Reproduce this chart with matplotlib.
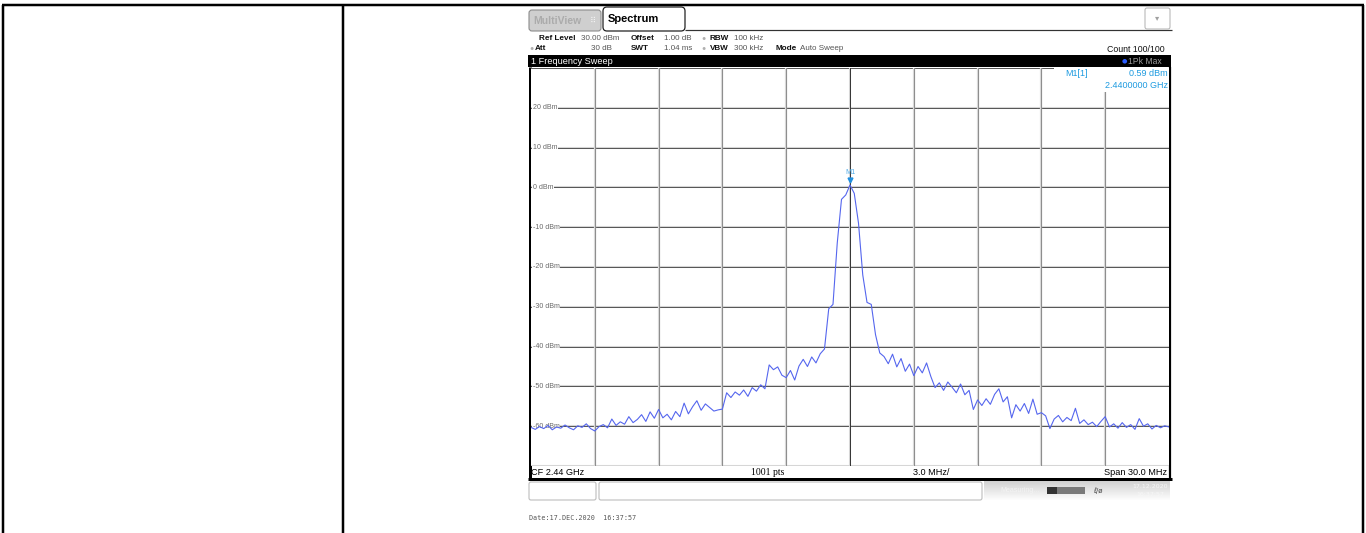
import matplotlib.pyplot as plt
import numpy as np
from matplotlib.patches import Rectangle, FancyBboxPatch

# figure size in pixels
W, H = 1366, 533

# analyzer settings
center_ghz = 2.44
span_mhz = 30.0
ref_level = 30
db_per_div = 10

# trace, 0.2 MHz steps from -15 MHz to +15 MHz
trace_dbm = [
    -60.3, -60.8, -60.1, -60.6, -59.8, -60.9, -60.2, -60.5, -59.7, -60.4, -60.9, -59.9, -60.3, -59.4, -60.6,
    -61.2, -60.1, -59.6, -60.4, -58.2, -59.8, -58.9, -59.5, -57.6, -59.1, -58.3, -57.1, -58.8, -56.4, -58.0,
    -55.8, -57.9, -57.0, -58.4, -56.3, -57.6, -54.2, -56.9, -55.1, -53.6, -56.0, -54.4, -55.3, -56.2, -55.9,
    -55.7, -51.6, -52.8, -51.4, -52.2, -50.9, -52.5, -50.3, -51.2, -49.6, -50.6, -44.6, -45.8, -45.1, -47.2,
    -47.8, -46.0, -48.4, -44.9, -43.2, -45.0, -42.6, -44.1, -41.8, -40.6, -30.5, -29.4, -14.0, -3.0, -1.9,
    0.59, -1.5, -9.0, -22.0, -28.9, -29.4, -37.0, -41.6, -42.5, -44.3, -41.9, -45.1, -43.0, -46.2, -44.4,
    -47.3, -45.0, -46.6, -44.1, -47.5, -50.3, -49.1, -51.0, -48.9, -50.2, -51.6, -49.4, -52.1, -51.0, -55.8,
    -53.4, -54.8, -53.1, -54.5, -52.0, -50.6, -53.9, -52.6, -57.9, -54.6, -56.2, -54.3, -56.8, -53.2, -57.0,
    -56.6, -57.4, -60.6, -58.2, -57.3, -58.9, -57.8, -58.6, -55.5, -59.3, -58.4, -59.6, -59.0, -60.1, -58.8,
    -57.6, -60.2, -59.4, -60.5, -59.1, -60.3, -59.6, -60.8, -58.1, -60.0, -59.4, -60.7, -59.8, -60.4, -59.9, -60.2,
]

level_labels = [20, 10, 0, -10, -20, -30, -40, -50, -60]
marker_freq_ghz = 2.44
marker_dbm = 0.59

fig = plt.figure(figsize=(W / 100, H / 100), dpi=100)
fig.patch.set_facecolor("white")

# background layer in pixel coords
bg = fig.add_axes([0, 0, 1, 1], zorder=0)
bg.set_xlim(0, W)
bg.set_ylim(H, 0)
bg.axis("off")

def px_line(ax, x0, y0, x1, y1, color="black", width=1.0, z=1):
    ax.plot([x0, x1], [y0, y1], color=color, lw=width * 0.72, solid_capstyle="butt", zorder=z)

# table borders
px_line(bg, 2, 5, 1364, 5, width=2.5)
px_line(bg, 3, 5, 3, H, width=2.5)
px_line(bg, 343, 5, 343, H, width=2.5)
px_line(bg, 1363, 5, 1363, H, width=2.5)

font = "Liberation Sans"

# tabs
bg.add_patch(FancyBboxPatch((529, 10), 72, 21, boxstyle="round,pad=0,rounding_size=3",
                            fc="#cfcfcf", ec="#8c8c8c", lw=0.8, zorder=2))
bg.text(533, 21, "MultiView", fontsize=7.5, fontweight="bold", color="#ababab",
        va="center", family=font, zorder=3)
bg.text(593, 20, "⠿", fontsize=6, color="#f2f2f2", va="center", ha="center", zorder=3)
bg.add_patch(FancyBboxPatch((603, 7), 82, 24, boxstyle="round,pad=0,rounding_size=4",
                            fc="white", ec="#222222", lw=0.9, zorder=2))
bg.text(608, 19, "Spectrum", fontsize=8, fontweight="bold", color="black",
        va="center", family=font, zorder=3)
px_line(bg, 685, 30, 1172, 30, color="#333333", width=1.2)
bg.add_patch(FancyBboxPatch((1145, 8), 25, 21, boxstyle="round,pad=0,rounding_size=2",
                            fc="white", ec="#b0b0b0", lw=0.7, zorder=2))
bg.text(1157.5, 18, "▾", fontsize=6, color="#a0a0a0", ha="center", va="center")

# settings header
info_fs = 5.9
def info(x, y, s, bold=False, color="#111111", ha="left", size=info_fs):
    bg.text(x, y, s, fontsize=size, fontweight="bold" if bold else "normal",
            color=color, ha=ha, va="center", family=font, zorder=3)

info(539, 38, "Ref Level", bold=True)
info(581, 38, "30.00 dBm", color="#555555", size=5.8)
info(631, 38, "Offset", bold=True)
info(664, 38, "1.00 dB", color="#555555", size=5.8)
info(701, 38, "●", color="#b0b0b0", size=5)
info(710, 38, "RBW", bold=True)
info(734, 38, "100 kHz", color="#555555", size=5.8)

info(529, 48, "●", color="#b0b0b0", size=5)
info(535, 48, "Att", bold=True)
info(612, 48, "30 dB", color="#555555", ha="right", size=5.8)
info(631, 48, "SWT", bold=True)
info(664, 48, "1.04 ms", color="#555555", size=5.8)
info(701, 48, "●", color="#b0b0b0", size=5)
info(710, 48, "VBW", bold=True)
info(734, 48, "300 kHz", color="#555555", size=5.8)
info(775, 48, "Mode", bold=True)
info(800, 48, "Auto Sweep", color="#555555", size=5.8)
info(1165, 49, "Count 100/100", color="#111111", ha="right", size=6.3)

# black title bar
bg.add_patch(Rectangle((528, 55), 643, 12, fc="black", ec="none", zorder=2))
bg.text(531, 61, "1 Frequency Sweep", fontsize=6.6, color="white", va="center",
        family=font, zorder=3)
bg.text(1124, 61, "●", fontsize=4.5, color="#2a5cff", va="center", ha="center", zorder=3)
bg.text(1128, 61, "1Pk Max", fontsize=6.2, color="#9a9a9a", va="center", family=font, zorder=3)

# frame around the diagram
px_line(bg, 530, 67, 530, 480, width=3, z=4)
px_line(bg, 1170, 67, 1170, 480, width=2.2, z=4)
px_line(bg, 528, 479, 1172, 479, width=3, z=4)

# footer
foot_fs = 6.6
bg.text(531, 472.5, "CF 2.44 GHz", fontsize=foot_fs, va="center", family=font, zorder=3)
bg.text(768, 472.5, "1001 pts", fontsize=foot_fs + 0.4, va="center", ha="center",
        family="Liberation Serif", zorder=3)
bg.text(931, 472.5, "3.0 MHz/", fontsize=foot_fs, va="center", ha="center", family=font, zorder=3)
bg.text(1167, 472.5, "Span 30.0 MHz", fontsize=foot_fs, va="center", ha="right", family=font, zorder=3)

# status bar
bg.add_patch(FancyBboxPatch((529, 482), 67, 18, boxstyle="round,pad=0,rounding_size=2",
                            fc="white", ec="#bdbdbd", lw=0.8, zorder=2))
bg.add_patch(FancyBboxPatch((599, 482), 383, 18, boxstyle="round,pad=0,rounding_size=2",
                            fc="white", ec="#bdbdbd", lw=0.8, zorder=2))
grad = np.linspace(0.82, 0.99, 20).reshape(-1, 1)
bg.imshow(grad, cmap="gray", vmin=0, vmax=1, extent=(984, 1170, 500, 481),
          aspect="auto", zorder=2)
bg.text(1000, 491, "Measuring...", fontsize=5, color="#f4f4f4", va="center", family=font, zorder=3)
bg.add_patch(Rectangle((1047, 487), 10, 7, fc="#333333", ec="none", zorder=3))
bg.add_patch(Rectangle((1057, 487), 28, 7, fc="#7a7a7a", ec="none", zorder=3))
bg.text(1098, 490.5, "ℓ/ø", fontsize=5, color="#444444", va="center", ha="center", zorder=3)
bg.text(1150, 486, "17.12.2020", fontsize=4.5, color="#f7f7f7", va="center", ha="center", zorder=3)
bg.text(1150, 495, "16:37:57", fontsize=4.5, color="#f7f7f7", va="center", ha="center", zorder=3)

bg.text(529, 518, "Date:17.DEC.2020  16:37:57", fontsize=4.9, color="#555555",
        va="center", family="DejaVu Sans Mono", zorder=3)

# diagram area
x0, x1, y_top, y_bot = 531, 1169, 68, 466
ax = fig.add_axes([x0 / W, 1 - y_bot / H, (x1 - x0) / W, (y_bot - y_top) / H], zorder=1)
f_lo = center_ghz - span_mhz / 2000
f_hi = center_ghz + span_mhz / 2000
ax.set_xlim(f_lo, f_hi)
ax.set_ylim(ref_level - 10 * db_per_div, ref_level)
for s in ax.spines.values():
    s.set_visible(False)
ax.set_xticks([])
ax.set_yticks([])

freq = np.linspace(f_lo, f_hi, len(trace_dbm))
for lvl in range(ref_level - 10 * db_per_div, ref_level + 1, db_per_div):
    ax.axhline(lvl, color="#d6d6d6", lw=1.5, zorder=1)
    ax.axhline(lvl, color="#404040", lw=0.6, zorder=1)
for i in range(1, 10):
    f = f_lo + i * span_mhz / 10000
    if i == 5:
        ax.axvline(f, color="#d6d6d6", lw=1.5, zorder=1)
        ax.axvline(f, color="#333333", lw=0.7, zorder=1)
    else:
        ax.axvline(f, color="#dedede", lw=1.6, zorder=1)
        ax.axvline(f, color="#8e8e8e", lw=0.8, zorder=1)

for lvl in level_labels:
    ax.text(0.003, lvl, f"{lvl} dBm", transform=ax.get_yaxis_transform(), fontsize=5.1,
            color="#6a6a6a", va="center", ha="left", family=font,
            bbox=dict(fc="white", ec="none", pad=0.3), zorder=2)

ax.plot(freq, trace_dbm, color="#5566ee", lw=0.8, zorder=3)

# marker
ax.plot([marker_freq_ghz], [marker_dbm + 1.2], marker="v", ms=3.5, color="#1f8fe0", zorder=4)
ax.text(marker_freq_ghz, marker_dbm + 2.2, "M1", fontsize=5.2, color="#55aee8",
        ha="center", va="bottom", family=font, zorder=4)

# marker readout box
ax.add_patch(Rectangle((0.82, 0.94), 0.18, 0.06, transform=ax.transAxes,
                       fc="white", ec="none", zorder=5))
ax.text(0.838, 0.985, "M1[1]", transform=ax.transAxes, fontsize=6.5, color="#1e9be0",
        va="center", family=font, zorder=6)
ax.text(0.998, 0.985, f"{marker_dbm:.2f} dBm", transform=ax.transAxes, fontsize=6.5,
        color="#1e9be0", va="center", ha="right", family=font, zorder=6)
ax.text(0.998, 0.955, f"{marker_freq_ghz:.7f} GHz", transform=ax.transAxes, fontsize=6.5,
        color="#1e9be0", va="center", ha="right", family=font, zorder=6)

fig.savefig("out.png", dpi=100)
